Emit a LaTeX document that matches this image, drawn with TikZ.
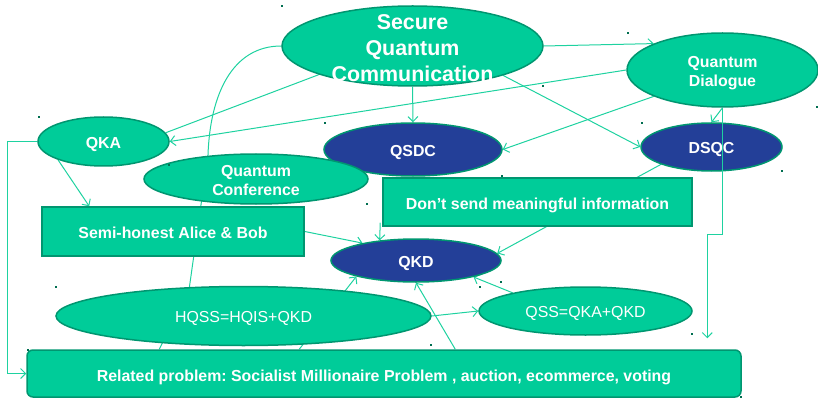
\documentclass[tikz,border=0pt]{standalone}
\usepackage{fontspec}
\setmainfont{Liberation Sans}
\usetikzlibrary{shapes.geometric,arrows.meta,calc}
\frenchspacing
\definecolor{leaf}{RGB}{0,204,153}
\definecolor{leafedge}{RGB}{0,150,112}
\definecolor{navy}{RGB}{35,63,152}
\definecolor{wire}{RGB}{30,210,160}
\definecolor{speck}{RGB}{0,110,80}
\pgfdeclarelayer{bg}
\pgfsetlayers{bg,main}
\tikzset{
  oval/.style={ellipse, draw=leafedge, line width=1.5pt, fill=leaf, text=white,
    inner sep=0pt, align=center, text height=13.2pt, text depth=0pt,
    font=\fontsize{15.9}{19}\selectfont\bfseries},
  twoline/.style={text height=32.6pt, text depth=0pt},
  darkoval/.style={oval, fill=navy},
  plainoval/.style={oval, font=\fontsize{15.9}{19}\selectfont},
  tealbox/.style={rectangle, draw=leafedge, line width=1.5pt, fill=leaf, text=white,
    inner sep=0pt, text depth=0pt, font=\fontsize{15.9}{19}\selectfont\bfseries},
  wireline/.style={draw=wire, line width=1pt},
  wirearrow/.style={wireline, -{Straight Barb[length=5pt,width=10pt]}},
}
\begin{document}
\begin{tikzpicture}[x=1pt,y=-1pt]
\useasboundingbox (0,0) rectangle (818,398);

% ---- nodes ----
\node[oval, minimum width=261pt, minimum height=80pt] (sqc) at (412.5,46) {};
\node[text=white, font=\fontsize{21.4}{26}\selectfont\bfseries, align=center] (sqctext) at (412.5,48)
  {Secure\\Quantum\\Communication};
\node[oval, twoline, minimum width=191pt, minimum height=74pt] (qd) at (722.5,70) {Quantum\\Dialogue};
\node[oval, minimum width=131pt, minimum height=49pt] (qka) at (103.5,141.5) {QKA};
\node[darkoval, minimum width=178pt, minimum height=53pt] (qsdc) at (413,149.5) {QSDC};
\node[darkoval, minimum width=141pt, minimum height=48pt] (dsqc) at (711.5,147) {DSQC};
\node[oval, twoline, minimum width=224pt, minimum height=50pt] (qc) at (256,179) {Quantum\\Conference};
\node[tealbox, text height=14.6pt, minimum width=309pt, minimum height=48pt] (ds) at (537.5,202)
  {Don’t send meaningful information};
\node[tealbox, text height=13.6pt, minimum width=262pt, minimum height=49pt] (semi) at (173,231.5)
  {Semi-honest Alice \& Bob};
\node[darkoval, minimum width=170pt, minimum height=43pt] (qkd) at (416,260.5) {QKD};
\node[plainoval, minimum width=375pt, minimum height=59pt] (hqss) at (243.5,316) {HQSS=HQIS+QKD};
\node[plainoval, minimum width=213pt, minimum height=48pt] (qss) at (585.5,311) {QSS=QKA+QKD};
\node[tealbox, text height=16.4pt, rounded corners=6pt, minimum width=714pt, minimum height=47pt] (rp)
  at (384,373.5) {Related problem: Socialist Millionaire Problem , auction, ecommerce, voting};

\coordinate (rpin) at ([xshift=681pt,yshift=11pt]rp.north west);

% ---- connectors behind the shapes ----
\begin{pgfonlayer}{bg}
\draw[wirearrow] (sqc.east) -- (qd.159);
\draw[wireline] (sqc.197.6) -- (qka.8);
\draw[wirearrow] (qd.west) -- (qka.east);
\draw[wirearrow] (sqc.south) -- (qsdc.north);
\draw[wirearrow] (sqc.342.6) -- (dsqc.west);
\draw[wirearrow] (qd.201.8) -- (qsdc.east);
\draw[wirearrow] (qd.south) -- (dsqc.north);
\draw[wireline] (sqc.west) .. controls (232,46) and (210,95) .. (208,155)
  -- (189,290) -- ([xshift=133pt]rp.north west);
\draw[wirearrow] (qka.west) -- ++(-30,0) |- (rp.west);
\draw[wirearrow] (qka.202) -- ([xshift=48pt]semi.north west);
\draw[wirearrow] (semi.east) -- (qkd.162);
\draw[wirearrow] ([xshift=-2pt,yshift=4pt]ds.south west) -- (qkd.151);
\draw[wirearrow] (dsqc.199.6) -- (qkd.5);
\draw[wirearrow] (hqss.east) -- (qss.west);
\draw[wirearrow] (qss.166) -- (qkd.344);
\draw[wirearrow] ([xshift=429pt]rp.north west) -- (qkd.south);
\draw[wirearrow] ([xshift=273pt]rp.north west) -- (qkd.195);
\end{pgfonlayer}

% ---- connector drawn over DSQC ----
\draw[wirearrow] (qd.south) -- ++(0,127) -| (rpin);

% ---- small selection marks ----
\foreach \px/\py in {282/6, 543/86, 628/33, 817/107, 39/117, 169/165, 325/123, 502/176,
  642/123, 782/171, 367/204, 501/282, 56/287, 431/345, 480/287, 692/334, 28/350, 741/397}
  \fill[speck] (\px-1,\py-1) rectangle ++(2,2);
\end{tikzpicture}
\end{document}
